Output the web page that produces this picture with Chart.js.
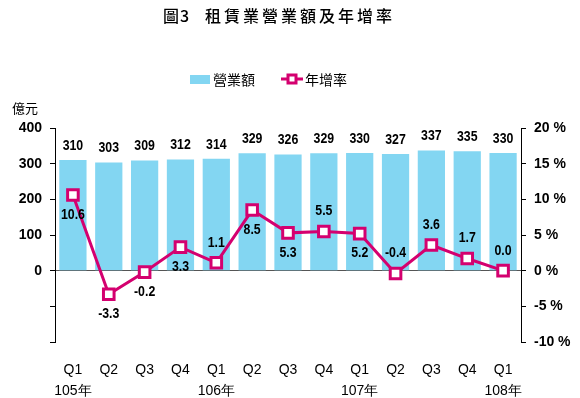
<!DOCTYPE html>
<html>
<head>
<meta charset="utf-8">
<script src="https://cdn.jsdelivr.net/npm/chart.js@4/dist/chart.umd.min.js"></script>
<style>
  html, body { margin: 0; padding: 0; background: #fff; }
  #wrap { width: 580px; height: 398px; }
</style>
</head>
<body>
<div id="wrap"><canvas id="myChart" width="580" height="398"></canvas></div>
<script>
// data
const quarters = ['Q1', 'Q2', 'Q3', 'Q4', 'Q1', 'Q2', 'Q3', 'Q4', 'Q1', 'Q2', 'Q3', 'Q4', 'Q1'];
const years = ['105年', '', '', '', '106年', '', '', '', '107年', '', '', '', '108年'];
const revenue = [310, 303, 309, 312, 314, 329, 326, 329, 330, 327, 337, 335, 330];
const growth = [10.6, -3.3, -0.2, 3.3, 1.1, 8.5, 5.3, 5.5, 5.2, -0.4, 3.6, 1.7, 0.0];
// where the growth label sits: 1 above the point, -1 below
const growthLabelSide = [-1, -1, -1, -1, 1, -1, -1, 1, -1, 1, 1, 1, 1];

const BLUE = '#83d6f2';
const PINK = '#d4006f';
const numFont = '"Liberation Sans Narrow", "Arial Narrow", "Liberation Sans", sans-serif';
const cjkFont = '"Noto Sans CJK TC", "Noto Sans", sans-serif';

const labels = quarters.map((q, i) => [q, years[i]]);

// narrow-looking bold number, squeezed a bit horizontally
function narrowText(ctx, txt, x, y) {
  ctx.save();
  ctx.translate(x, y);
  ctx.scale(0.88, 1);
  ctx.fillText(txt, 0, 0);
  ctx.restore();
}

// title, legend, unit and value labels
const decor = {
  id: 'decor',
  afterDatasetsDraw(chart) {
    const ctx = chart.ctx;
    ctx.save();

    // title
    ctx.fillStyle = '#000';
    ctx.textBaseline = 'middle';
    ctx.textAlign = 'left';
    ctx.font = '500 16px ' + cjkFont;
    ctx.letterSpacing = '1px';
    ctx.fillText('圖3', 163, 16);
    ctx.letterSpacing = '3px';
    ctx.fillText('租賃業營業額及年增率', 205, 16);
    ctx.letterSpacing = '0px';

    // legend
    ctx.fillStyle = BLUE;
    ctx.fillRect(190, 75, 20, 9);
    ctx.fillStyle = '#000';
    ctx.font = '14px ' + cjkFont;
    ctx.fillText('營業額', 213, 80);
    ctx.strokeStyle = PINK;
    ctx.lineWidth = 3;
    ctx.beginPath();
    ctx.moveTo(281, 79);
    ctx.lineTo(303, 79);
    ctx.stroke();
    ctx.fillStyle = '#fff';
    ctx.fillRect(288, 75, 8, 8);
    ctx.strokeRect(288, 75, 8, 8);
    ctx.fillStyle = '#000';
    ctx.fillText('年增率', 305, 80);

    // unit
    ctx.font = '13px ' + cjkFont;
    ctx.fillText('億元', 12, 108);

    // bar values (dataset 1 is the bar series)
    ctx.font = 'bold 14px ' + numFont;
    ctx.textAlign = 'center';
    chart.getDatasetMeta(1).data.forEach((bar, i) => {
      narrowText(ctx, String(revenue[i]), bar.x, bar.y - 14);
    });

    // growth values (dataset 0 is the line)
    chart.getDatasetMeta(0).data.forEach((pt, i) => {
      narrowText(ctx, growth[i].toFixed(1), pt.x, pt.y - growthLabelSide[i] * 20);
    });

    ctx.restore();
  }
};

new Chart(document.getElementById('myChart'), {
  data: {
    labels: labels,
    datasets: [
      {
        type: 'line',
        label: '年增率',
        data: growth,
        yAxisID: 'y1',
        borderColor: PINK,
        borderWidth: 3,
        pointStyle: 'rect',
        pointRadius: 7.5,
        pointBorderWidth: 3,
        pointBackgroundColor: '#fff',
        pointBorderColor: PINK,
        tension: 0,
        order: 0
      },
      {
        type: 'bar',
        label: '營業額',
        data: revenue,
        yAxisID: 'y',
        backgroundColor: BLUE,
        barPercentage: 0.76,
        categoryPercentage: 1,
        order: 1
      }
    ]
  },
  options: {
    responsive: false,
    animation: false,
    layout: { padding: { top: 128, bottom: 0, left: 0, right: 0 } },
    plugins: {
      legend: { display: false },
      title: { display: false },
      tooltip: { enabled: false }
    },
    scales: {
      x: {
        grid: { display: false },
        border: { display: false },
        ticks: {
          color: '#000',
          font: { family: numFont, size: 14, lineHeight: 1.55 },
          maxRotation: 0,
          autoSkip: false,
          padding: 9
        },
        afterFit(scale) { scale.height = 56; }
      },
      y: {
        position: 'left',
        min: -200,
        max: 400,
        ticks: {
          stepSize: 100,
          color: '#000',
          font: { family: numFont, size: 14, weight: 'bold' },
          padding: 8,
          callback: v => (v < 0 ? '' : v)
        },
        grid: {
          drawOnChartArea: true,
          color: c => (c.tick && c.tick.value === 0 ? '#555' : 'rgba(0,0,0,0)'),
          tickColor: '#000',
          tickLength: 5,
          lineWidth: 1
        },
        border: { display: true, color: '#000', width: 1 },
        afterFit(scale) { scale.width = 55; }
      },
      y1: {
        position: 'right',
        min: -10,
        max: 20,
        ticks: {
          stepSize: 5,
          color: '#000',
          font: { family: numFont, size: 14, weight: 'bold' },
          padding: 8,
          callback: v => v + ' %'
        },
        grid: {
          drawOnChartArea: false,
          tickColor: '#000',
          tickLength: 5
        },
        border: { display: true, color: '#000', width: 1 },
        afterFit(scale) { scale.width = 59; }
      }
    }
  },
  plugins: [decor]
});
</script>
</body>
</html>
